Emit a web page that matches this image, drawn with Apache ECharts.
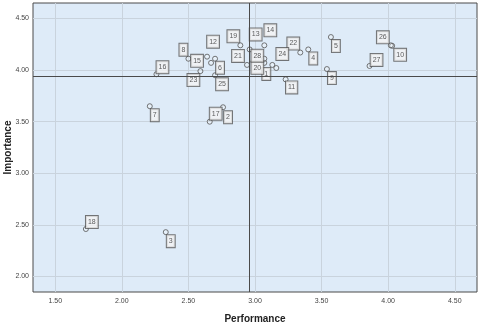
<!DOCTYPE html>
<html>
<head>
<meta charset="utf-8">
<script src="https://cdn.jsdelivr.net/npm/echarts@6/dist/echarts.min.js"></script>
<style>
  html, body { margin: 0; padding: 0; background: #fff; }
  #chart { width: 480px; height: 325px; }
</style>
</head>
<body>
<div id="chart"></div>
<script>
// Datos: número de ítem, desempeño (Performance) e importancia (Importance)
const itemIds = [1, 2, 3, 4, 5, 6, 7, 8, 9, 10, 11, 12, 13, 14,
  15, 16, 17, 18, 19, 20, 21, 22, 23, 24, 25, 26, 27, 28];
const performance = [3.13, 2.76, 2.33, 3.40, 3.57, 2.70, 2.21, 2.50, 3.54, 4.03, 3.23, 2.64, 2.96, 3.07,
  2.67, 2.26, 2.66, 1.73, 2.89, 3.07, 2.94, 3.34, 2.59, 3.16, 2.70, 4.02, 3.86, 3.07];
const importance = [4.05, 3.64, 2.43, 4.20, 4.32, 4.11, 3.65, 4.11, 4.01, 4.235, 3.91, 4.13, 4.20, 4.24,
  4.07, 3.96, 3.50, 2.46, 4.24, 4.07, 4.05, 4.17, 3.99, 4.02, 3.95, 4.24, 4.04, 4.11];

// Líneas de referencia (medias)
const meanPerformance = 2.96;
const meanImportance = 3.935;

// Marcas de los ejes
const xTicks = [1.5, 2.0, 2.5, 3.0, 3.5, 4.0, 4.5];
const yTicks = [2.0, 2.5, 3.0, 3.5, 4.0, 4.5];

// Desplazamiento de cada etiqueta respecto a su punto (px)
const labelOffsets = [
  [-6, 9], [5, 10], [5, 9], [5, 9], [5, 9], [5, 9], [5, 9], [-5, -9], [5, 9], [8, 9],
  [6, 8], [6, -15], [6, -15], [6, -15], [-14, -2], [6, -7], [6, -8], [6, -7], [-7, -9], [-7, 5],
  [-9, -9], [-7, -9], [-7, 9], [6, -14], [7, 9], [-8, -8], [7, -6], [-7, -3]
];

const chart = echarts.init(document.getElementById("chart"));

const textColor = "#444";
const gridColor = "#c9d3dd";

const points = itemIds.map((id, i) => ({
  value: [performance[i], importance[i], id],
  label: { offset: labelOffsets[i] }
}));

const option = {
  animation: false,
  backgroundColor: "#ffffff",
  grid: {
    left: 33, right: 3, top: 3, bottom: 33,
    outerBoundsMode: "none",
    containLabel: false,
    show: true,
    backgroundColor: "#deebf8",
    borderColor: "#4a4a4a",
    borderWidth: 1
  },
  xAxis: {
    type: "value",
    min: 1.333, max: 4.667,
    name: "Performance",
    nameLocation: "middle",
    nameGap: 22,
    nameMoveOverlap: false,
    nameTextStyle: { fontFamily: "Arial, Liberation Sans", fontWeight: "bold", fontSize: 10, color: "#222" },
    axisLine: { show: false },
    axisTick: { show: false, customValues: xTicks },
    axisLabel: {
      customValues: xTicks,
      formatter: v => v.toFixed(2),
      fontFamily: "Arial, Liberation Sans", fontSize: 7, color: textColor, margin: 6
    },
    splitLine: { show: true, lineStyle: { color: gridColor, width: 1 } }
  },
  yAxis: {
    type: "value",
    min: 1.85, max: 4.65,
    name: "Importance",
    nameLocation: "middle",
    nameGap: 20,
    nameMoveOverlap: false,
    nameTextStyle: { fontFamily: "Arial, Liberation Sans", fontWeight: "bold", fontSize: 10, color: "#222" },
    axisLine: { show: false },
    axisTick: { show: false, customValues: yTicks },
    axisLabel: {
      customValues: yTicks,
      formatter: v => v.toFixed(2),
      fontFamily: "Arial, Liberation Sans", fontSize: 7, color: textColor, margin: 4
    },
    splitLine: { show: true, lineStyle: { color: gridColor, width: 1 } }
  },
  series: [{
    type: "scatter",
    symbol: "circle",
    symbolSize: 5,
    itemStyle: { color: "rgba(255,255,255,0.3)", borderColor: "#555", borderWidth: 1 },
    label: {
      show: true,
      position: "inside",
      formatter: p => String(p.value[2]),
      fontFamily: "Arial, Liberation Sans",
      fontSize: 7,
      color: "#333",
      backgroundColor: "#f4f4f4",
      borderColor: "#555",
      borderWidth: 1,
      padding: [3, 2, 2, 2]
    },
    data: points,
    markLine: {
      silent: true,
      symbol: "none",
      label: { show: false },
      lineStyle: { color: "#4a4a4a", width: 1, type: "solid" },
      data: [{ xAxis: meanPerformance }, { yAxis: meanImportance }]
    }
  }]
};

chart.setOption(option);
window.addEventListener("resize", () => chart.resize());
</script>
</body>
</html>
